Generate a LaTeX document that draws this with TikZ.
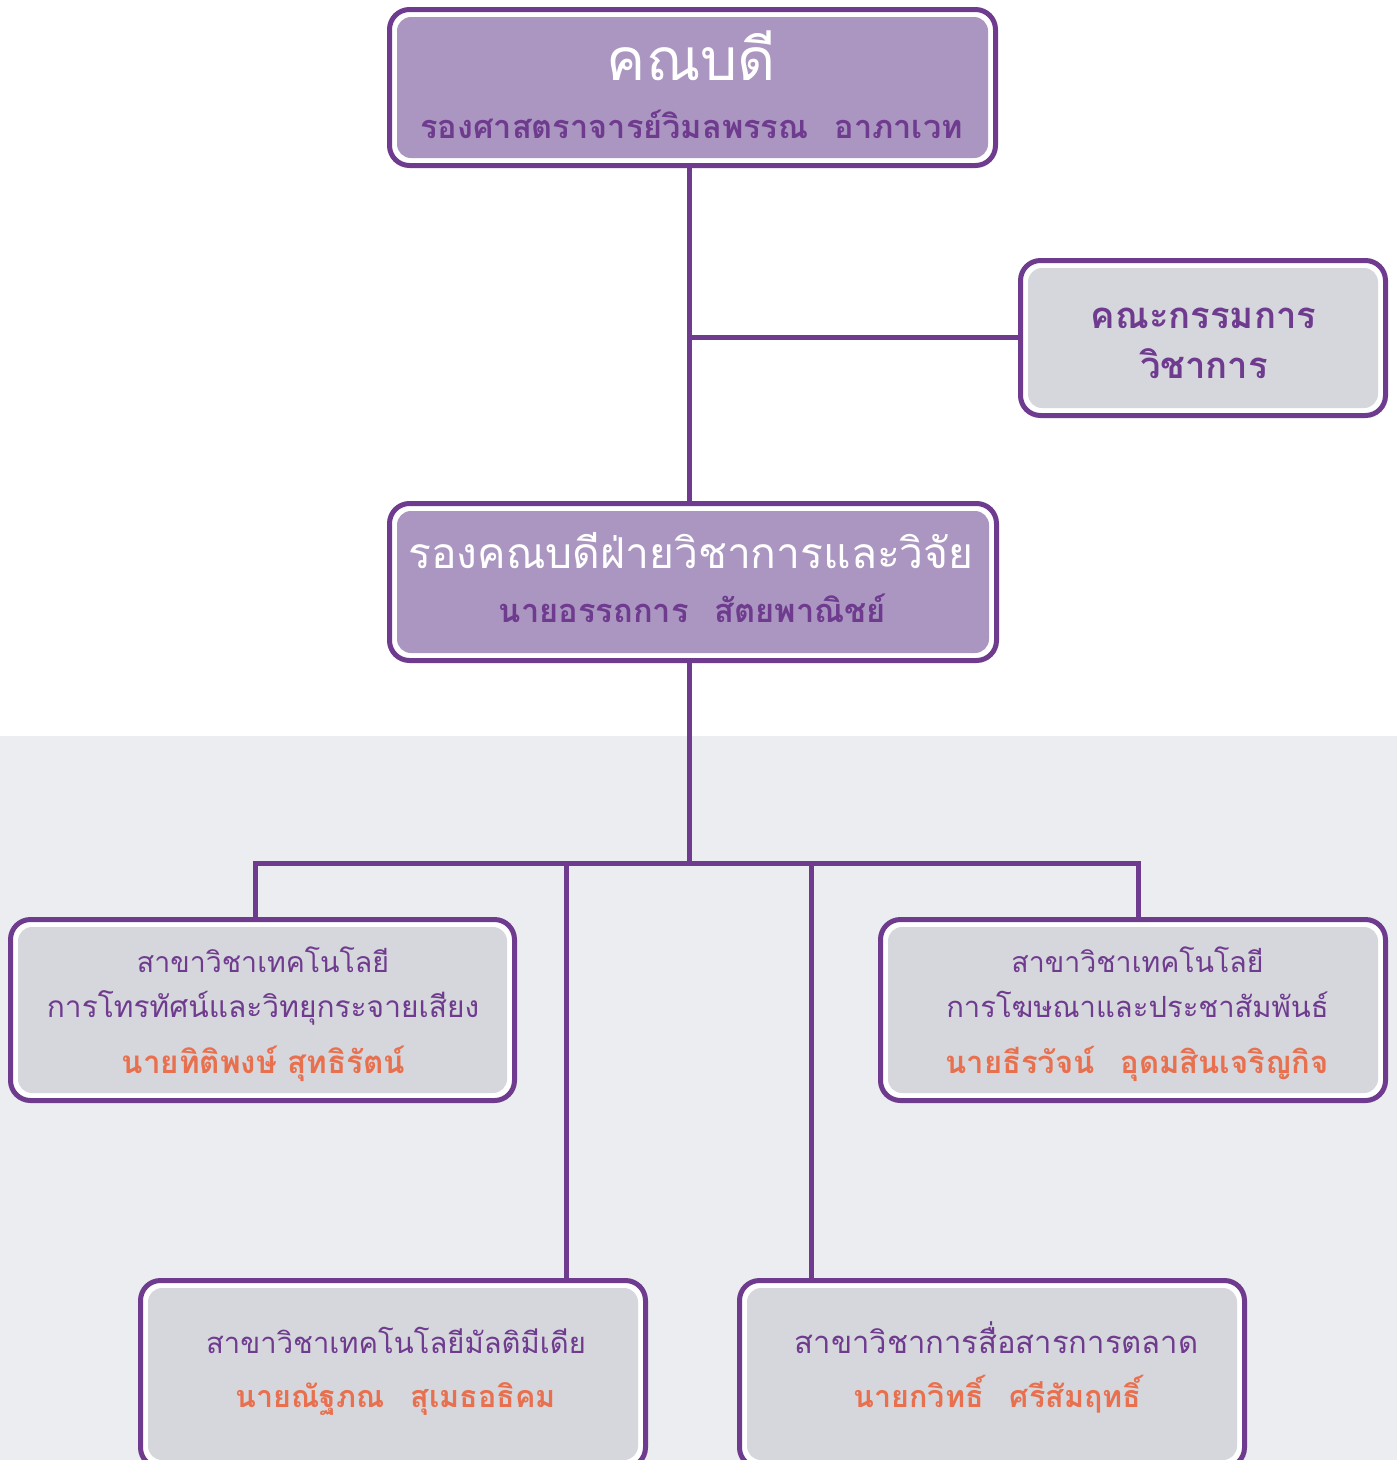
\documentclass[tikz,border=0pt]{standalone}
\usepackage{fontspec}
\newfontfamily\thai[Script=Thai]{Loma}
\definecolor{pur}{HTML}{6F3B8F}
\definecolor{topfill}{HTML}{AA96C0}
\definecolor{greyfill}{HTML}{D6D7DC}
\definecolor{bgrey}{HTML}{ECEDF0}
\definecolor{orng}{HTML}{E9704E}
\pgfdeclarelayer{bgl}\pgfdeclarelayer{lnl}\pgfsetlayers{bgl,lnl,main}
\newcommand{\gapname}{\hspace{26pt}}
\tikzset{
  box/.style={draw=pur, line width=5pt, fill=white, rounded corners=20pt, inner sep=0pt,
    path picture={\fill[#1, rounded corners=14pt] ([shift={(7.5pt,-7.5pt)}]path picture bounding box.north west) rectangle ([shift={(-7.5pt,7.5pt)}]path picture bounding box.south east);}},
  conn/.style={draw=pur, line width=5pt},
  txt/.style={anchor=base, inner sep=0pt, font=\thai},
  light/.style={txt, text=pur, font=\thai\fontsize{#1}{#1}\selectfont},
  heavy/.style={txt, font=\thai\bfseries\fontsize{#1}{#1}\selectfont},
}
\begin{document}
\begin{tikzpicture}[x=1pt,y=-1pt]
\useasboundingbox (0,0) rectangle (1397,1460);
\clip (0,0) rectangle (1397,1460);
\begin{pgfonlayer}{bgl}
\fill[bgrey] (0,736) rectangle (1397,1460);
\end{pgfonlayer}
% boxes
\node[box=topfill, minimum width=606pt, minimum height=156pt] (dean) at (692.5,87.5) {};
\node[box=greyfill, minimum width=365pt, minimum height=155pt] (comm) at (1203,338) {};
\node[box=topfill, minimum width=607pt, minimum height=157pt] (vice) at (693,582) {};
\node[box=greyfill, minimum width=504pt, minimum height=181pt] (b1) at (262.5,1010) {};
\node[box=greyfill, minimum width=505pt, minimum height=181pt] (b2) at (1133,1010) {};
\node[box=greyfill, minimum width=505pt, minimum height=187pt] (b3) at (393,1374) {};
\node[box=greyfill, minimum width=505pt, minimum height=187pt] (b4) at (992,1374) {};
% texts
\node[light=58.7, text=white] (t1) at (691.5,80) {คณบดี};
\node[heavy=32.5, text=pur] (t2) at (691.5,138) {รองศาสตราจารย์วิมลพรรณ\gapname อาภาเวท};
\node[heavy=36.5, text=pur] (t3) at (1203.5,328) {คณะกรรมการ};
\node[heavy=36.5, text=pur] (t4) at (1204,378) {วิชาการ};
\node[light=42.6, text=white] (t5) at (691,568) {รองคณบดีฝ่ายวิชาการและวิจัย};
\node[heavy=32.6, text=pur] (t6) at (692.5,622) {นายอรรถการ\gapname สัตยพาณิชย์};
\node[light=28.5] (t7) at (263,972) {สาขาวิชาเทคโนโลยี};
\node[light=29.9] (t8) at (263,1017) {การโทรทัศน์และวิทยุกระจายเสียง};
\node[heavy=31.4, text=orng] (t9) at (263.5,1073) {นายทิติพงษ์ สุทธิรัตน์};
\node[light=28.5] (t10) at (1137.5,972) {สาขาวิชาเทคโนโลยี};
\node[light=29.2] (t11) at (1137.5,1017) {การโฆษณาและประชาสัมพันธ์};
\node[heavy=31, text=orng] (t12) at (1137,1073) {นายธีรวัจน์\gapname อุดมสินเจริญกิจ};
\node[light=29.2] (t13) at (396,1353) {สาขาวิชาเทคโนโลยีมัลติมีเดีย};
\node[heavy=30.5, text=orng] (t14) at (395.5,1407) {นายณัฐภณ\gapname สุเมธอธิคม};
\node[light=31] (t15) at (996.5,1353) {สาขาวิชาการสื่อสารการตลาด};
\node[heavy=30.5, text=orng] (t16) at (997.5,1407) {นายกวิทธิ์\gapname ศรีสัมฤทธิ์};
% connectors
\coordinate (sp) at (689,337);
\coordinate (jn) at (689,863);
\coordinate (h1) at (255,863);
\coordinate (h2) at (1138,863);
\coordinate (h3) at (566,863);
\coordinate (h4) at (811,863);
\begin{pgfonlayer}{lnl}
\draw[conn] (dean.south -| sp) -- (vice.north -| sp);
\draw[conn] (sp) -- (comm.west |- sp);
\draw[conn] (vice.south -| jn) -- (jn);
\draw[conn] (h1 |- b1.north) -- (h1) -- (h2) -- (h2 |- b2.north);
\draw[conn] (h3) -- (h3 |- b3.north);
\draw[conn] (h4) -- (h4 |- b4.north);
\end{pgfonlayer}
\end{tikzpicture}
\end{document}
